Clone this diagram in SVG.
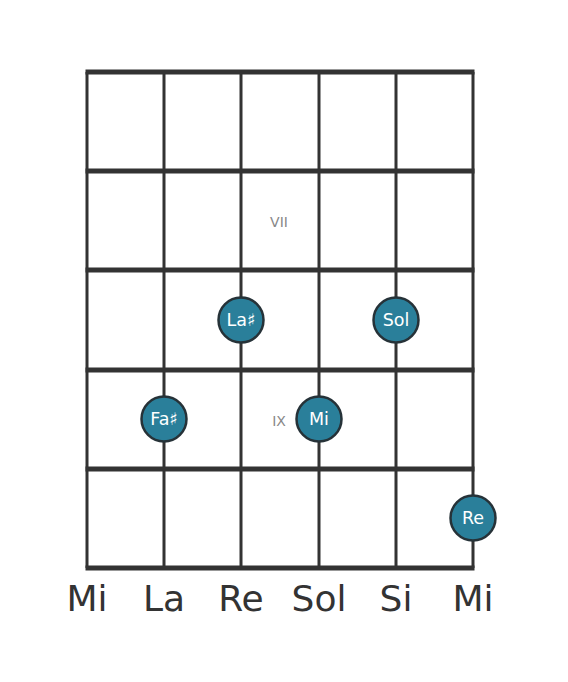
<svg xmlns="http://www.w3.org/2000/svg" width="568" height="682" viewBox="0 0 568 682">
<style>
.fret{stroke:#333;stroke-width:5;stroke-linecap:butt}
.str{stroke:#333;stroke-width:3}
.dot{fill:#2a7f9a;stroke:#263238;stroke-width:2.5}
.nt{font-family:"DejaVu Sans",sans-serif;font-size:17.5px;fill:#fff;text-anchor:middle}
.lbl{font-family:"DejaVu Sans",sans-serif;font-size:36px;fill:#333;text-anchor:middle}
.pos{font-family:"DejaVu Sans",sans-serif;font-size:14px;fill:#888;text-anchor:middle}
</style>
<rect width="568" height="682" fill="#fff"/>
<g id="grid">
<line class="str" x1="87" y1="72" x2="87" y2="568"/>
<line class="str" x1="164" y1="72" x2="164" y2="568"/>
<line class="str" x1="241" y1="72" x2="241" y2="568"/>
<line class="str" x1="319" y1="72" x2="319" y2="568"/>
<line class="str" x1="396" y1="72" x2="396" y2="568"/>
<line class="str" x1="473" y1="72" x2="473" y2="568"/>
<line class="fret" x1="85.5" y1="72" x2="474.5" y2="72"/>
<line class="fret" x1="85.5" y1="171" x2="474.5" y2="171"/>
<line class="fret" x1="85.5" y1="270" x2="474.5" y2="270"/>
<line class="fret" x1="85.5" y1="370" x2="474.5" y2="370"/>
<line class="fret" x1="85.5" y1="469" x2="474.5" y2="469"/>
<line class="fret" x1="85.5" y1="568" x2="474.5" y2="568"/>
</g>
<g id="positions">
<text class="pos" x="279" y="227">VII</text>
<text class="pos" x="279" y="426">IX</text>
</g>
<g id="n-lasharp"><circle class="dot" cx="241" cy="320" r="22.5"/><text class="nt" x="241" y="326">La♯</text></g>
<g id="n-sol"><circle class="dot" cx="396" cy="320" r="22.5"/><text class="nt" x="396" y="326">Sol</text></g>
<g id="n-fasharp"><circle class="dot" cx="164" cy="419" r="22.5"/><text class="nt" x="164" y="425">Fa♯</text></g>
<g id="n-mi"><circle class="dot" cx="319" cy="419" r="22.5"/><text class="nt" x="319" y="425">Mi</text></g>
<g id="n-re"><circle class="dot" cx="473" cy="518" r="22.5"/><text class="nt" x="473" y="524">Re</text></g>
<g id="strings">
<text class="lbl" x="87" y="611">Mi</text>
<text class="lbl" x="164" y="611">La</text>
<text class="lbl" x="241" y="611">Re</text>
<text class="lbl" x="319" y="611">Sol</text>
<text class="lbl" x="396" y="611">Si</text>
<text class="lbl" x="473" y="611">Mi</text>
</g>
</svg>
